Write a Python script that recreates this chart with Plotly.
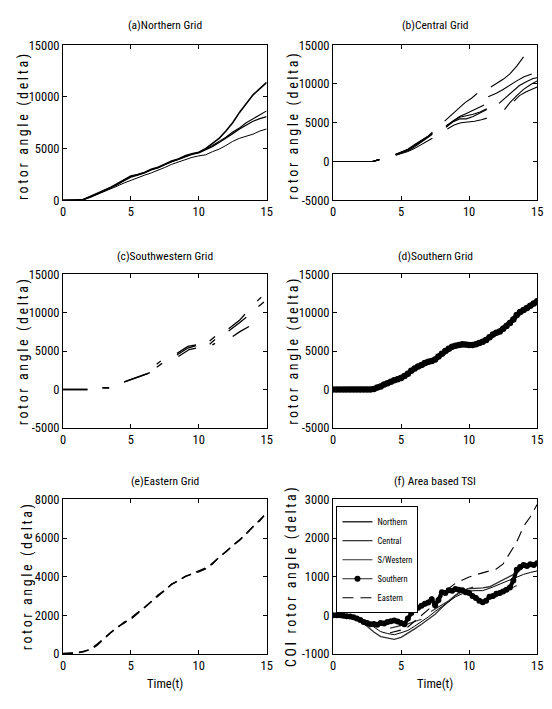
import numpy as np
import plotly.graph_objects as go

# ---------------- data ----------------
# (a) Northern Grid
T_N = [0, 1, 1.5, 2, 2.5, 3, 3.5, 4, 4.5, 5, 5.5, 6, 6.5, 7, 7.5, 8, 8.5, 9, 9.5, 10,
       10.5, 11, 11.5, 12, 12.5, 13, 13.5, 14, 14.5, 15]
N1 = [0, 0, 80, 350, 650, 950, 1250, 1600, 2000, 2350, 2500, 2700, 3000, 3200, 3500, 3800, 4000, 4300, 4500, 4650,
      5000, 5500, 6000, 6700, 7500, 8500, 9300, 10200, 10800, 11400]
N2 = [0, 0, 90, 330, 620, 930, 1230, 1560, 1950, 2300, 2480, 2680, 2980, 3180, 3460, 3760, 3980, 4250, 4480, 4620,
      4950, 5300, 5700, 6100, 6600, 7000, 7500, 7900, 8300, 8650]
N3 = [0, 0, 70, 320, 600, 900, 1200, 1520, 1900, 2250, 2450, 2650, 2950, 3150, 3450, 3750, 3950, 4200, 4450, 4600,
      4900, 5200, 5600, 6000, 6450, 6900, 7300, 7650, 7900, 8100]
N4 = [0, 0, 60, 280, 540, 830, 1100, 1380, 1680, 1950, 2200, 2430, 2650, 2900, 3180, 3480, 3700, 3950, 4150, 4300,
      4400, 4700, 4950, 5300, 5700, 6000, 6200, 6400, 6700, 6900]

# (b) Central Grid: each line = list of (times, values) segments
C_SEG1 = ([0, 1, 2, 2.9, 3.2, 3.4], [0, 0, 0, 0, 150, 250])
T_C2 = [4.6, 5, 5.5, 6, 6.5, 7, 7.3]
CENTRAL = [
    [C_SEG1, (T_C2, [900, 1100, 1500, 2000, 2600, 3200, 3700]),
     ([8.2, 8.7, 9.2, 9.7, 10.2, 10.6], [5200, 6000, 6800, 7600, 8200, 8800]),
     ([11.6, 12, 12.5, 13, 13.5, 14], [9600, 10000, 10600, 11300, 12300, 13500])],
    [C_SEG1, (T_C2, [850, 1050, 1400, 1900, 2500, 3100, 3500]),
     ([8.3, 8.8, 9.3, 9.8, 10.3, 10.8, 11.1], [4600, 5200, 5800, 6200, 6600, 7000, 7300]),
     ([11.4, 12, 12.5, 13, 13.5, 14, 14.6], [8350, 8800, 9300, 9900, 10400, 10900, 11300])],
    [C_SEG1, (T_C2, [950, 1200, 1600, 2200, 2800, 3300, 3800]),
     ([8.3, 8.8, 9.3, 9.8, 10.3, 10.8, 11.3], [4500, 5200, 5700, 5900, 6100, 6400, 6800]),
     ([12.2, 12.7, 13.2, 13.7, 14.2, 14.7, 15], [7500, 8300, 9100, 9800, 10300, 10700, 10800])],
    [C_SEG1, (T_C2, [800, 1000, 1300, 1700, 2200, 2700, 3000]),
     ([8.3, 8.8, 9.3, 9.8, 10.3, 10.8, 11.3], [4400, 5100, 5500, 5500, 5800, 6300, 6700]),
     ([12.6, 13, 13.5, 14, 14.5, 15], [6700, 7600, 8500, 9300, 9900, 10400])],
    [C_SEG1, (T_C2, [900, 1150, 1550, 2100, 2700, 3250, 3600]),
     ([8.4, 8.9, 9.4, 9.9, 10.4, 10.9, 11.3], [4200, 4700, 5000, 5100, 5200, 5400, 5600]),
     ([13.3, 13.7, 14.2, 14.6, 15], [7800, 8500, 9000, 9300, 9600])],
]

# (c) Southwestern Grid
SOUTHWEST = [
    [([0, 1.8], [0, 0]), ([2.9, 3.4], [250, 250]),
     ([4.5, 5, 5.5, 6, 6.4], [1000, 1300, 1600, 1900, 2200]),
     ([6.9, 7.2], [3300, 3700]),
     ([8.4, 8.8, 9.2, 9.8], [4700, 5200, 5600, 5800]),
     ([10.8, 11.2], [6300, 6900]),
     ([12.2, 12.6, 13, 13.4], [7900, 8400, 9000, 9800]),
     ([14.3, 14.6], [11500, 12000])],
    [([0, 1.8], [0, 0]), ([2.9, 3.4], [180, 180]),
     ([4.5, 5, 5.5, 6, 6.3], [950, 1250, 1550, 1850, 2100]),
     ([6.9, 7.3], [2900, 3400]),
     ([8.4, 8.8, 9.2, 9.8], [4500, 5000, 5400, 5700]),
     ([10.8, 11.2], [5900, 6500]),
     ([12.2, 12.6, 13, 13.5], [7600, 8100, 8700, 9400]),
     ([14.4, 14.8], [10800, 11400])],
    [([8.5, 8.9, 9.3, 9.8], [4300, 4800, 5200, 5400]),
     ([11.0, 11.2], [5800, 6000]),
     ([12.5, 13, 13.7], [6900, 7500, 8200])],
]

# (d) Southern Grid (t = 0 .. 15 every 0.25)
S_D = [0, 0, 0, 0, 0, 0, 0, 0, 0, 0, 0, 0,
       60, 250, 400, 650, 800, 1000, 1200, 1350, 1500, 1750, 2050, 2450, 2750, 3000, 3200, 3450,
       3600, 3700, 3900, 4300, 4650, 5000, 5300, 5550, 5700, 5800, 5900, 5850, 5800, 5800, 5900,
       6050, 6200, 6450, 6800, 7150, 7400, 7550, 7900, 8250, 8650, 9100, 9700, 10100, 10350,
       10600, 10900, 11200, 11500]

# (e) Eastern Grid
T_E = [0, 0.5, 1, 1.5, 2, 2.5, 3, 3.5, 4, 4.5, 5, 5.5, 6, 6.5, 7, 7.5, 8, 8.5, 9, 9.5, 10,
       10.5, 11, 11.5, 12, 12.5, 13, 13.5, 14, 14.5, 14.8]
E1 = [30, 30, 60, 120, 250, 500, 800, 1050, 1400, 1600, 1850, 2150, 2400, 2700, 3000, 3350, 3600, 3800, 4000, 4150,
      4250, 4400, 4700, 5000, 5300, 5600, 5900, 6200, 6600, 6900, 7150]
E2 = [20, 40, 50, 140, 220, 450, 760, 1100, 1350, 1650, 1800, 2100, 2380, 2720, 3050, 3300, 3620, 3780, 4020, 4130,
      4300, 4450, 4650, 5020, 5280, 5620, 5880, 6230, 6580, 6920, 7150]

# (f) Area based TSI
T_F = [0, 0.5, 1, 1.5, 2, 2.5, 3, 3.5, 4, 4.5, 5, 5.5, 6, 6.5, 7, 7.5, 8, 8.5, 9, 9.5, 10,
       10.5, 11, 11.5, 12, 12.5, 13, 13.5, 14, 14.5, 15]
F_NORTH = [0, 0, -10, -50, -150, -280, -430, -550, -590, -620, -570, -470, -350, -230, -100, 30, 200, 370, 520, 650,
           690, 700, 710, 740, 830, 920, 1000, 1100, 1250, 1350, 1380]
F_CENTRAL = [0, 0, -10, -40, -100, -170, -300, -420, -470, -500, -450, -390, -280, -170, -40, 100, 220, 340, 480, 560,
             630, 640, 640, 700, 770, 850, 930, 1000, 1060, 1110, 1150]
F_SWEST = [([4.2, 4.6, 5, 5.5, 6, 6.5], [-330, -300, -260, -220, -160, -100]),
           ([7.2, 7.6, 8, 8.5, 9, 9.5, 10, 10.3], [100, 180, 260, 380, 520, 620, 700, 730]),
           ([11.5, 12, 12.5, 13, 13.5], [420, 480, 600, 680, 770])]
F_SOUTH = [0, 0, 0, -10, -20, -30, -50, -80, -120, -170, -200, -230, -220, -240, -200, -210, -170, -150, -130, -160,
           -200, -230, -80, 60, 180, 200, 250, 300, 330, 420, 260, 400, 600, 580, 650, 640, 680, 660, 650, 600,
           580, 500, 450, 380, 340, 380, 480, 500, 560, 580, 620, 660, 720, 900, 1180, 1250, 1300, 1280, 1320, 1300, 1350]
T_FE = [4.2, 4.6, 5, 5.5, 6, 6.5, 7, 7.5, 8, 8.5, 9, 9.5, 10, 10.5, 11, 11.5, 12, 12.5, 13, 13.5, 14, 14.5, 15]
F_EAST = [-450, -420, -380, -300, -150, 0, 150, 300, 480, 700, 830, 920, 990, 1050, 1100, 1140, 1200, 1330, 1600,
          1900, 2300, 2550, 2870]

TITLES = ["(a)Northern Grid", "(b)Central Grid", "(c)Southwestern Grid", "(d)Southern Grid",
          "(e)Eastern Grid", "(f) Area based TSI"]
YRANGES = [(0, 15000), (-5000, 15000), (-5000, 15000), (-5000, 15000), (0, 8000), (-1000, 3000)]
YTICKS = [[0, 5000, 10000, 15000], [-5000, 0, 5000, 10000, 15000], [-5000, 0, 5000, 10000, 15000],
          [-5000, 0, 5000, 10000, 15000], [0, 2000, 4000, 6000, 8000], [-1000, 0, 1000, 2000, 3000]]
XTICKS = [0, 5, 10, 15]
LEGEND_NAMES = ["Northern", "Central", "S/Western", "Southern", "Eastern"]

# ---------------- layout helpers ----------------
W, H = 552, 709
FONT = "Roboto Condensed, Liberation Sans Narrow, Arial Narrow, Liberation Sans, sans-serif"
COLS = [(61, 268), (335.5, 543)]
ROWS = [(38, 196.5), (272, 429), (502, 660)]


def join_segments(segs):
    xs, ys = [], []
    for i, (t, v) in enumerate(segs):
        if i:
            xs.append(None)
            ys.append(None)
        xs.extend(t)
        ys.extend(v)
    return xs, ys


fig = go.Figure()


def add(i, x, y, **kw):
    ax = "" if i == 1 else str(i)
    kw.setdefault("showlegend", False)
    fig.add_trace(go.Scatter(x=x, y=y, xaxis="x" + ax, yaxis="y" + ax, hoverinfo="skip", **kw))


BLK = "black"
# (a)
for ser, w in zip([N1, N2, N3, N4], [1.6, 1.1, 1.3, 1.0]):
    add(1, T_N, ser, mode="lines", line=dict(color=BLK, width=w))
# (b)
for segs in CENTRAL:
    x, y = join_segments(segs)
    add(2, x, y, mode="lines", line=dict(color=BLK, width=1.1))
# (c)
for segs in SOUTHWEST:
    x, y = join_segments(segs)
    add(3, x, y, mode="lines", line=dict(color=BLK, width=1.3))
# (d)
T_D = np.arange(len(S_D)) * 0.25
add(4, T_D, S_D, mode="lines+markers", line=dict(color=BLK, width=5),
    marker=dict(color=BLK, size=6.5, symbol="circle"))
# (e)
for ser in [E1, E2]:
    add(5, T_E, ser, mode="lines", line=dict(color=BLK, width=1.4, dash="10px,6px"))
# (f)
add(6, T_F, F_NORTH, mode="lines", line=dict(color="#303030", width=1.3), name=LEGEND_NAMES[0], showlegend=True)
add(6, T_F, F_CENTRAL, mode="lines", line=dict(color=BLK, width=1.0), name=LEGEND_NAMES[1], showlegend=True)
x, y = join_segments(F_SWEST)
add(6, x, y, mode="lines", line=dict(color="#303030", width=1.1), name=LEGEND_NAMES[2], showlegend=True)
T_FS = np.arange(len(F_SOUTH)) * 0.25
add(6, T_FS, F_SOUTH, mode="lines+markers", line=dict(color=BLK, width=4),
    marker=dict(color=BLK, size=6))
# legend-only entry for Southern (thin line with a dot, as in the reference legend)
add(6, [None], [None], mode="lines+markers", line=dict(color="#202020", width=1.2),
    marker=dict(color=BLK, size=6), name=LEGEND_NAMES[3], showlegend=True)
add(6, T_FE, F_EAST, mode="lines", line=dict(color=BLK, width=1.1, dash="11px,7px"),
    name=LEGEND_NAMES[4], showlegend=True)

layout = dict(width=W, height=H, margin=dict(l=0, r=0, t=0, b=0, pad=0),
              paper_bgcolor="white", plot_bgcolor="white",
              font=dict(family=FONT, size=12, color="black"),
              legend=dict(x=339 / W, y=1 - 509 / H, xanchor="left", yanchor="top",
                          bordercolor="black", borderwidth=1, bgcolor="white",
                          font=dict(family=FONT, size=8.5), itemwidth=30, tracegroupgap=0),
              annotations=[])

axis_common = dict(showline=True, linecolor="black", linewidth=1, mirror="ticks", ticks="inside",
                   ticklen=4, tickcolor="black", showgrid=False, zeroline=False,
                   tickfont=dict(family=FONT, size=12.5))
for i in range(6):
    r, c = divmod(i, 2)
    x0, x1 = COLS[c]
    y0, y1 = ROWS[r]
    ax = "" if i == 0 else str(i + 1)
    layout["xaxis" + ax] = dict(axis_common, domain=[x0 / W, x1 / W], range=[0, 15], tickvals=XTICKS,
                                ticktext=[str(v) for v in XTICKS], anchor="y" + ax)
    layout["yaxis" + ax] = dict(axis_common, domain=[1 - y1 / H, 1 - y0 / H], range=list(YRANGES[i]),
                                tickvals=YTICKS[i], ticktext=[str(v) for v in YTICKS[i]], anchor="x" + ax)
    # title
    ty = {0: 17, 1: 253, 2: 483}[r]
    layout["annotations"].append(dict(text=TITLES[i], x=(x0 + x1) / 2 / W, y=1 - ty / H, xref="paper",
                                      yref="paper", showarrow=False, xanchor="center", yanchor="middle",
                                      font=dict(family=FONT, size=11.5)))
    # y label
    ylab = "COI rotor angle (delta)" if i == 5 else "rotor angle (delta)"
    lx = [21, 295][c] if r < 2 else [25, 294][c]
    ly = {0: 120, 1: 350, 2: 580}[r]
    layout["annotations"].append(dict(text='<span style="letter-spacing:2.6px">' + ylab + '</span>',
                                      x=lx / W, y=1 - ly / H, xref="paper", yref="paper", showarrow=False,
                                      textangle=-90, xanchor="center", yanchor="middle",
                                      font=dict(family=FONT, size=14)))
    if r == 2:
        layout["annotations"].append(dict(text="Time(t)", x=(x0 + x1) / 2 / W, y=1 - 690 / H, xref="paper",
                                          yref="paper", showarrow=False, xanchor="center", yanchor="middle",
                                          font=dict(family=FONT, size=12.5)))

fig.update_layout(**layout)
fig.write_html("out.html")
